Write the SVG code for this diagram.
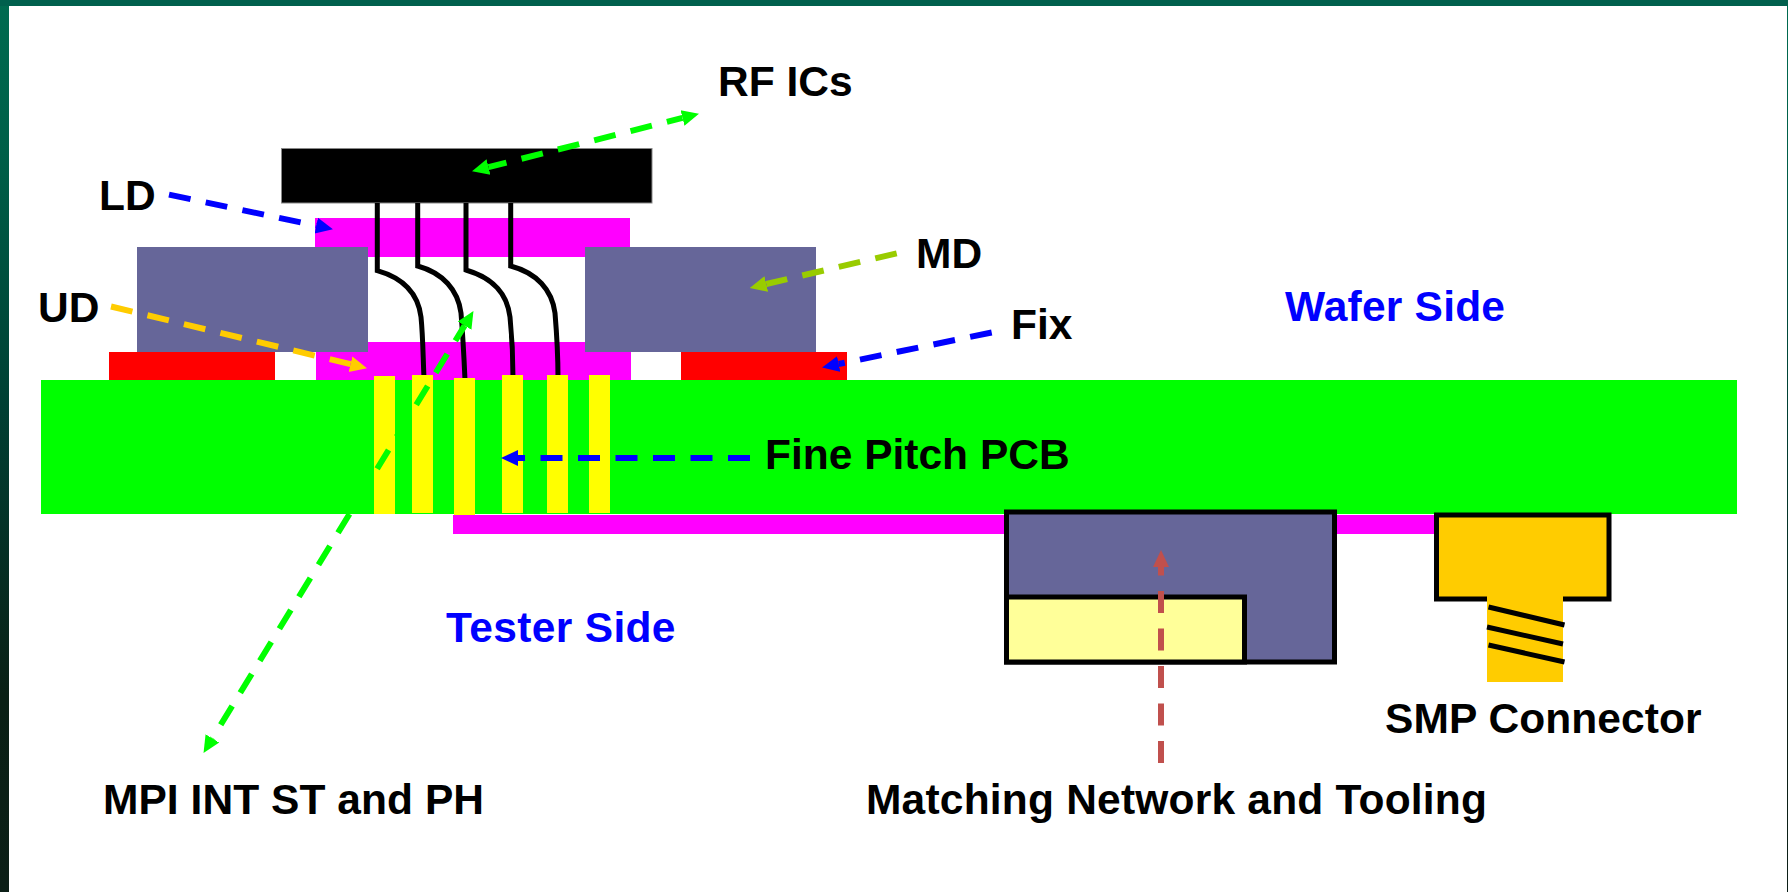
<svg xmlns="http://www.w3.org/2000/svg" width="1788" height="892" viewBox="0 0 1788 892">
<style>
text{font-family:"Liberation Sans",Arial,sans-serif;font-weight:bold;font-size:42.5px;fill:#000}
text.b{fill:#0000ff}
.c{fill:none;stroke-width:6;stroke-dasharray:22 15.5}
.w{fill:none;stroke:#000;stroke-width:5}
.k{stroke:#000;stroke-width:5}
</style>
<defs>
<linearGradient id="bg" x1="0" y1="0" x2="0" y2="1"><stop offset="0" stop-color="#006b50"/><stop offset=".17" stop-color="#005f48"/><stop offset=".46" stop-color="#003f33"/><stop offset=".78" stop-color="#0a2015"/><stop offset="1" stop-color="#0c1f17"/></linearGradient>
<marker id="ag" markerUnits="userSpaceOnUse" markerWidth="18" markerHeight="18" refX="0" refY="9" orient="auto-start-reverse"><path d="M0,1L17,9L0,17Z" fill="#00ff00"/></marker>
<marker id="ab" markerUnits="userSpaceOnUse" markerWidth="18" markerHeight="18" refX="0" refY="9" orient="auto-start-reverse"><path d="M0,1L17,9L0,17Z" fill="#0000ff"/></marker>
<marker id="ay" markerUnits="userSpaceOnUse" markerWidth="18" markerHeight="18" refX="0" refY="9" orient="auto-start-reverse"><path d="M0,1L17,9L0,17Z" fill="#ffcc00"/></marker>
<marker id="ao" markerUnits="userSpaceOnUse" markerWidth="18" markerHeight="18" refX="0" refY="9" orient="auto-start-reverse"><path d="M0,1L17,9L0,17Z" fill="#99cc00"/></marker>
<marker id="ar" markerUnits="userSpaceOnUse" markerWidth="18" markerHeight="18" refX="0" refY="9" orient="auto-start-reverse"><path d="M0,1L17,9L0,17Z" fill="#c0504d"/></marker>
</defs>
<rect id="frame" width="1788" height="892" fill="url(#bg)"/>
<rect x="0" y="0" width="1788" height="6" fill="#00604d"/>
<rect id="slide" x="9" y="6" width="1778" height="886" fill="#fff"/>

<g id="ld-substrate"><rect x="315" y="218" width="315" height="39" fill="#ff00ff"/></g>
<g id="ud-substrate"><rect x="316" y="342" width="315" height="38" fill="#ff00ff"/></g>
<g id="ic"><rect x="281.5" y="148.5" width="370.5" height="54.5" fill="#000" stroke="#888" stroke-width="1"/></g>
<g id="wires">
<path class="w" d="M377.3,203V270.7C403,278 418,293 421,317C423,337 423,357 424,378"/>
<path class="w" d="M417.7,203V266C443,273 458,290 461,313C463,337 464,357 465,380"/>
<path class="w" d="M466,203V270C493,278 507,293 510,317C512,337 513,357 513,378"/>
<path class="w" d="M510.7,203V266C537,273 552,290 555,313C557,337 558,357 558,378"/>
</g>
<g id="md-left"><rect x="137" y="247" width="231" height="105" fill="#666699"/></g>
<g id="md-right"><rect x="585" y="247" width="231" height="105" fill="#666699"/></g>
<g id="fix-left"><rect x="109" y="352" width="166" height="28" fill="#ff0000"/></g>
<g id="fix-right"><rect x="681" y="352" width="166" height="28" fill="#ff0000"/></g>
<g id="pcb-bottom"><rect x="453" y="515" width="985" height="19" fill="#ff00ff"/></g>
<g id="pcb"><rect x="41" y="380" width="1696" height="134" fill="#00ff00"/></g>
<g id="vias" fill="#ffff00">
<rect x="374" y="376" width="21" height="138"/>
<rect x="412" y="375" width="21" height="138"/>
<rect x="454" y="378" width="21" height="137"/>
<rect x="502" y="375" width="21" height="138"/>
<rect x="547" y="375" width="21" height="138"/>
<rect x="589" y="375" width="21" height="138"/>
</g>
<g id="matching-tooling"><rect x="1006.5" y="512" width="328" height="150" fill="#666699" class="k"/></g>
<g id="matching-network"><rect x="1006.5" y="597" width="238" height="65" fill="#ffff99" class="k"/></g>
<g id="smp">
<rect x="1436.5" y="515" width="172.500" height="84" fill="#ffcc00" class="k"/>
<rect x="1487" y="590" width="76" height="92" fill="#ffcc00"/>
<path d="M1488.500,607L1564.500,625M1487,627L1563,644M1488.500,645L1564.500,662" stroke="#000" stroke-width="5" fill="none"/>
</g>

<g id="connectors">
<path class="c" stroke="#00ff00" stroke-dashoffset="5.9" d="M682.500,117.900L488.500,167.100" marker-start="url(#ag)" marker-end="url(#ag)"/>
<path class="c" stroke="#0000ff" d="M169,194.600L316.300,225.700" marker-end="url(#ab)"/>
<path class="c" stroke="#ffcc00" d="M111,306.500L350.500,364.200" marker-end="url(#ay)"/>
<path class="c" stroke="#99cc00" d="M896.700,253.300L766.300,284" marker-end="url(#ao)"/>
<path class="c" stroke="#0000ff" d="M991.700,332.500L838.700,364" marker-end="url(#ab)"/>
<path class="c" stroke="#0000ff" d="M750,458H518" marker-end="url(#ab)"/>
<path class="c" stroke="#00ff00" stroke-dashoffset="4.200" d="M464.600,325.600L212.400,738.400" marker-start="url(#ag)" marker-end="url(#ag)"/>
<path class="c" stroke="#c0504d" d="M1161,763V567" marker-end="url(#ar)"/>
</g>

<g id="labels">
<text x="718" y="96">RF ICs</text>
<text x="99" y="210">LD</text>
<text x="38" y="321.500">UD</text>
<text x="916" y="268">MD</text>
<text x="1011" y="339">Fix</text>
<text class="b" x="1285" y="321" textLength="220">Wafer Side</text>
<text x="765" y="468.500">Fine Pitch PCB</text>
<text class="b" x="446" y="642" textLength="229.500">Tester Side</text>
<text x="1385" y="733" textLength="316.500">SMP Connector</text>
<text x="866" y="814" textLength="621">Matching Network and Tooling</text>
<text x="103" y="814" textLength="381">MPI INT ST and PH</text>
</g>
</svg>
